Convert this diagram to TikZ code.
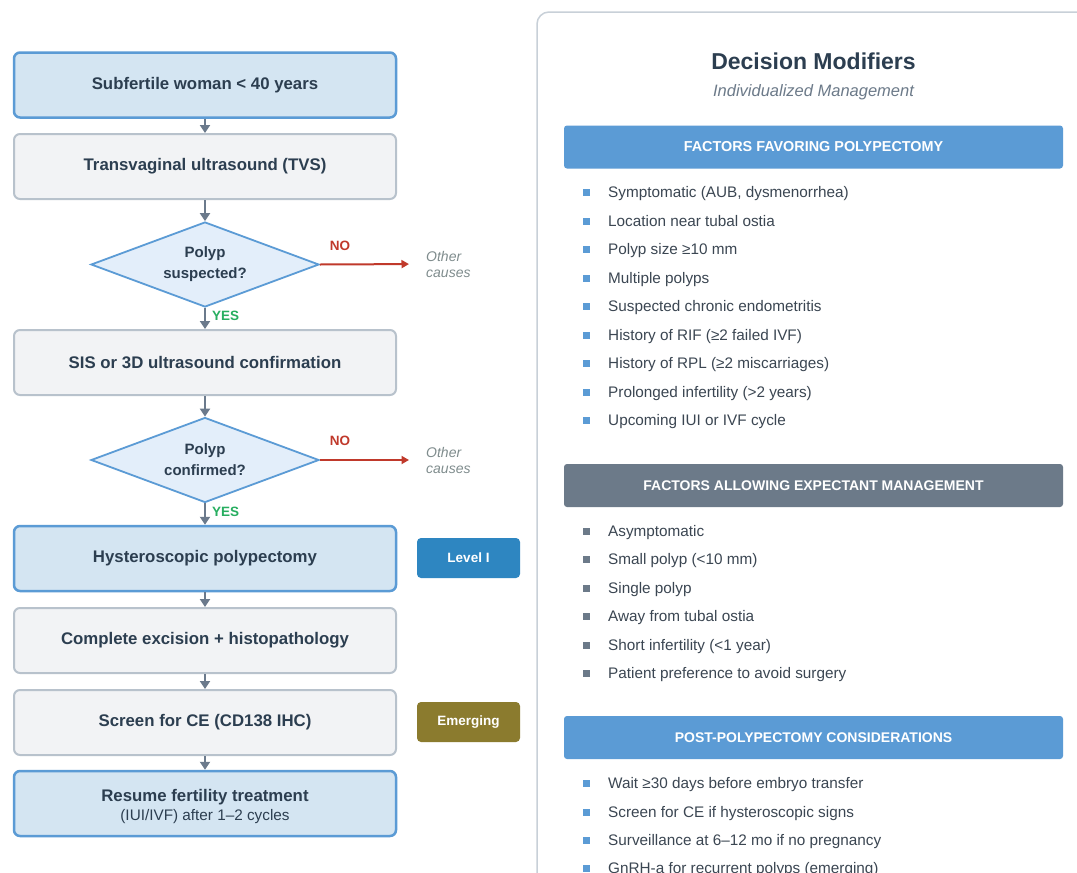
\documentclass[tikz,border=0pt]{standalone}
\usepackage{fontspec}
\setmainfont{Liberation Sans}
\usetikzlibrary{arrows.meta,shapes.geometric}
\definecolor{bfill}{HTML}{D4E5F2}
\definecolor{bborder}{HTML}{5B9BD5}
\definecolor{gfill}{HTML}{F2F3F5}
\definecolor{gborder}{HTML}{B8C2CC}
\definecolor{dfill}{HTML}{E3EEFA}
\definecolor{arrgray}{HTML}{6B7A8C}
\definecolor{textdark}{HTML}{2C3E50}
\definecolor{nored}{HTML}{C0392B}
\definecolor{yesgreen}{HTML}{27AE60}
\definecolor{levelblue}{HTML}{2E86C1}
\definecolor{emolive}{HTML}{8B7B2E}
\definecolor{headblue}{HTML}{5B9BD5}
\definecolor{headgray}{HTML}{6C7A89}
\definecolor{panelborder}{HTML}{C8D0D8}
\definecolor{subgray}{HTML}{6C7A89}
\definecolor{othergray}{HTML}{7F8C8D}
\definecolor{itemtext}{HTML}{3B4652}
\begin{document}
\begin{tikzpicture}[x=1pt,y=-1pt,
  box/.style={rectangle, rounded corners=6pt, minimum width=382pt, minimum height=65pt, inner sep=0pt, align=center, text=textdark, font=\fontsize{16.8}{20}\selectfont\bfseries},
  bluebox/.style={box, fill=bfill, draw=bborder, line width=2.5pt},
  graybox/.style={box, fill=gfill, draw=gborder, line width=2pt},
  decision/.style={diamond, aspect=2.68, minimum width=228pt, minimum height=85pt, inner sep=0pt, fill=dfill, draw=bborder, line width=1.8pt, align=center, text=textdark, font=\fontsize{15}{21}\selectfont\bfseries},
  arr/.style={draw=arrgray, line width=2.6pt, -{Triangle[length=8pt,width=10pt]}},
  noarr/.style={draw=nored, line width=2pt, -{Triangle[length=7.5pt,width=8pt]}, shorten >=17pt},
  nolab/.style={text=nored, font=\fontsize{13.5}{16}\selectfont\bfseries, inner sep=0pt},
  yeslab/.style={text=yesgreen, font=\fontsize{13.5}{16}\selectfont\bfseries, inner sep=0pt},
  other/.style={text=othergray, font=\fontsize{14}{16}\selectfont\itshape, align=left, inner sep=0pt, anchor=west},
  badge/.style={rectangle, rounded corners=4pt, minimum width=103pt, minimum height=40pt, inner sep=0pt, text=white, font=\fontsize{13.5}{16}\selectfont\bfseries},
  header/.style={rectangle, rounded corners=3pt, minimum width=499pt, minimum height=43pt, inner sep=0pt, text=white, font=\fontsize{14.4}{17}\selectfont\bfseries},
  item/.style={anchor=base west, inner sep=0pt, text=itemtext, font=\fontsize{15.3}{18}\selectfont},
  sqb/.style={rectangle, minimum width=7pt, minimum height=7pt, inner sep=0pt, fill=headblue},
  sqg/.style={rectangle, minimum width=7pt, minimum height=7pt, inner sep=0pt, fill=headgray}
]
\useasboundingbox (0,0) rectangle (1077,873);
\clip (0,0) rectangle (1077,873);
\fill[white] (0,0) rectangle (1077,873);

% ---------- Left flowchart ----------
\node[bluebox] (b1) at (205,85) {Subfertile woman < 40 years};
\node[graybox] (b2) at (205,166.5) {Transvaginal ultrasound (TVS)};
\node[decision] (d1) at (205,264.5) {Polyp\\suspected?};
\node[graybox] (b3) at (205,362.5) {SIS or 3D ultrasound confirmation};
\node[decision] (d2) at (205,460) {Polyp\\confirmed?};
\node[bluebox] (b4) at (205,558.5) {Hysteroscopic polypectomy};
\node[graybox] (b5) at (205,640.5) {Complete excision + histopathology};
\node[graybox] (b6) at (205,722.5) {Screen for CE (CD138 IHC)};
\node[bluebox, text depth=0pt] (b7) at (205,803.5) {\raisebox{-3pt}{\shortstack{Resume fertility treatment\\[1pt]{\mdseries\fontsize{15.3}{18}\selectfont (IUI/IVF) after 1--2 cycles}}}};

\draw[arr] (b1) -- (b2);
\draw[arr] (b2) -- (d1);
\draw[arr] (d1) -- (b3);
\draw[arr] (b3) -- (d2);
\draw[arr] (d2) -- (b4);
\draw[arr] (b4) -- (b5);
\draw[arr] (b5) -- (b6);
\draw[arr] (b6) -- (b7);

\node[yeslab, anchor=west] (y1) at (212,316) {YES};
\node[yeslab, anchor=west] (y2) at (212,512) {YES};

\node[other] (o1) at (426,264) {Other\\causes};
\node[other] (o2) at (426,460) {Other\\causes};
\draw[noarr] (d1.east) -- (o1.west);
\draw[noarr] (d2.east) -- (o2.west);
\node[nolab] (n1) at (340,246) {NO};
\node[nolab] (n2) at (340,441) {NO};

\node[badge, fill=levelblue] (lv) at (468.5,558) {Level I};
\node[badge, fill=emolive] (em) at (468.5,722) {Emerging};

% ---------- Right panel ----------
\draw[panelborder, line width=1.5pt, fill=white, rounded corners=12pt] (537,12) rectangle (1100,900);
\node[text=textdark, font=\fontsize{23}{26}\selectfont\bfseries] (title) at (813.5,61) {Decision Modifiers};
\node[text=subgray, font=\fontsize{16.5}{19}\selectfont\itshape] (sub) at (813.5,92) {Individualized Management};

\node[header, fill=headblue] (h1) at (813.5,147) {FACTORS FAVORING POLYPECTOMY};
\foreach \y/\t in {192/{Symptomatic (AUB, dysmenorrhea)},
                   221/{Location near tubal ostia},
                   249/{Polyp size ≥10 mm},
                   278/{Multiple polyps},
                   306/{Suspected chronic endometritis},
                   335/{History of RIF (≥2 failed IVF)},
                   363/{History of RPL (≥2 miscarriages)},
                   392/{Prolonged infertility (>2 years)},
                   420/{Upcoming IUI or IVF cycle}}{
  \node[sqb] at (586,\y) {};
  \node[item] at (608,\y+5.5) {\t};
}

\node[header, fill=headgray, font=\fontsize{14}{17}\selectfont\bfseries] (h2) at (813.5,485.5) {FACTORS ALLOWING EXPECTANT MANAGEMENT};
\foreach \y/\t in {531/{Asymptomatic},
                   559/{Small polyp (<10 mm)},
                   588/{Single polyp},
                   616/{Away from tubal ostia},
                   645/{Short infertility (<1 year)},
                   673/{Patient preference to avoid surgery}}{
  \node[sqg] at (586,\y) {};
  \node[item] at (608,\y+5.5) {\t};
}

\node[header, fill=headblue, font=\fontsize{14}{17}\selectfont\bfseries] (h3) at (813.5,737.5) {POST-POLYPECTOMY CONSIDERATIONS};
\foreach \y/\t in {783/{Wait ≥30 days before embryo transfer},
                   812/{Screen for CE if hysteroscopic signs},
                   840/{Surveillance at 6--12 mo if no pregnancy},
                   868/{GnRH-a for recurrent polyps (emerging)}}{
  \node[sqb] at (586,\y) {};
  \node[item] at (608,\y+5.5) {\t};
}
\end{tikzpicture}
\end{document}
